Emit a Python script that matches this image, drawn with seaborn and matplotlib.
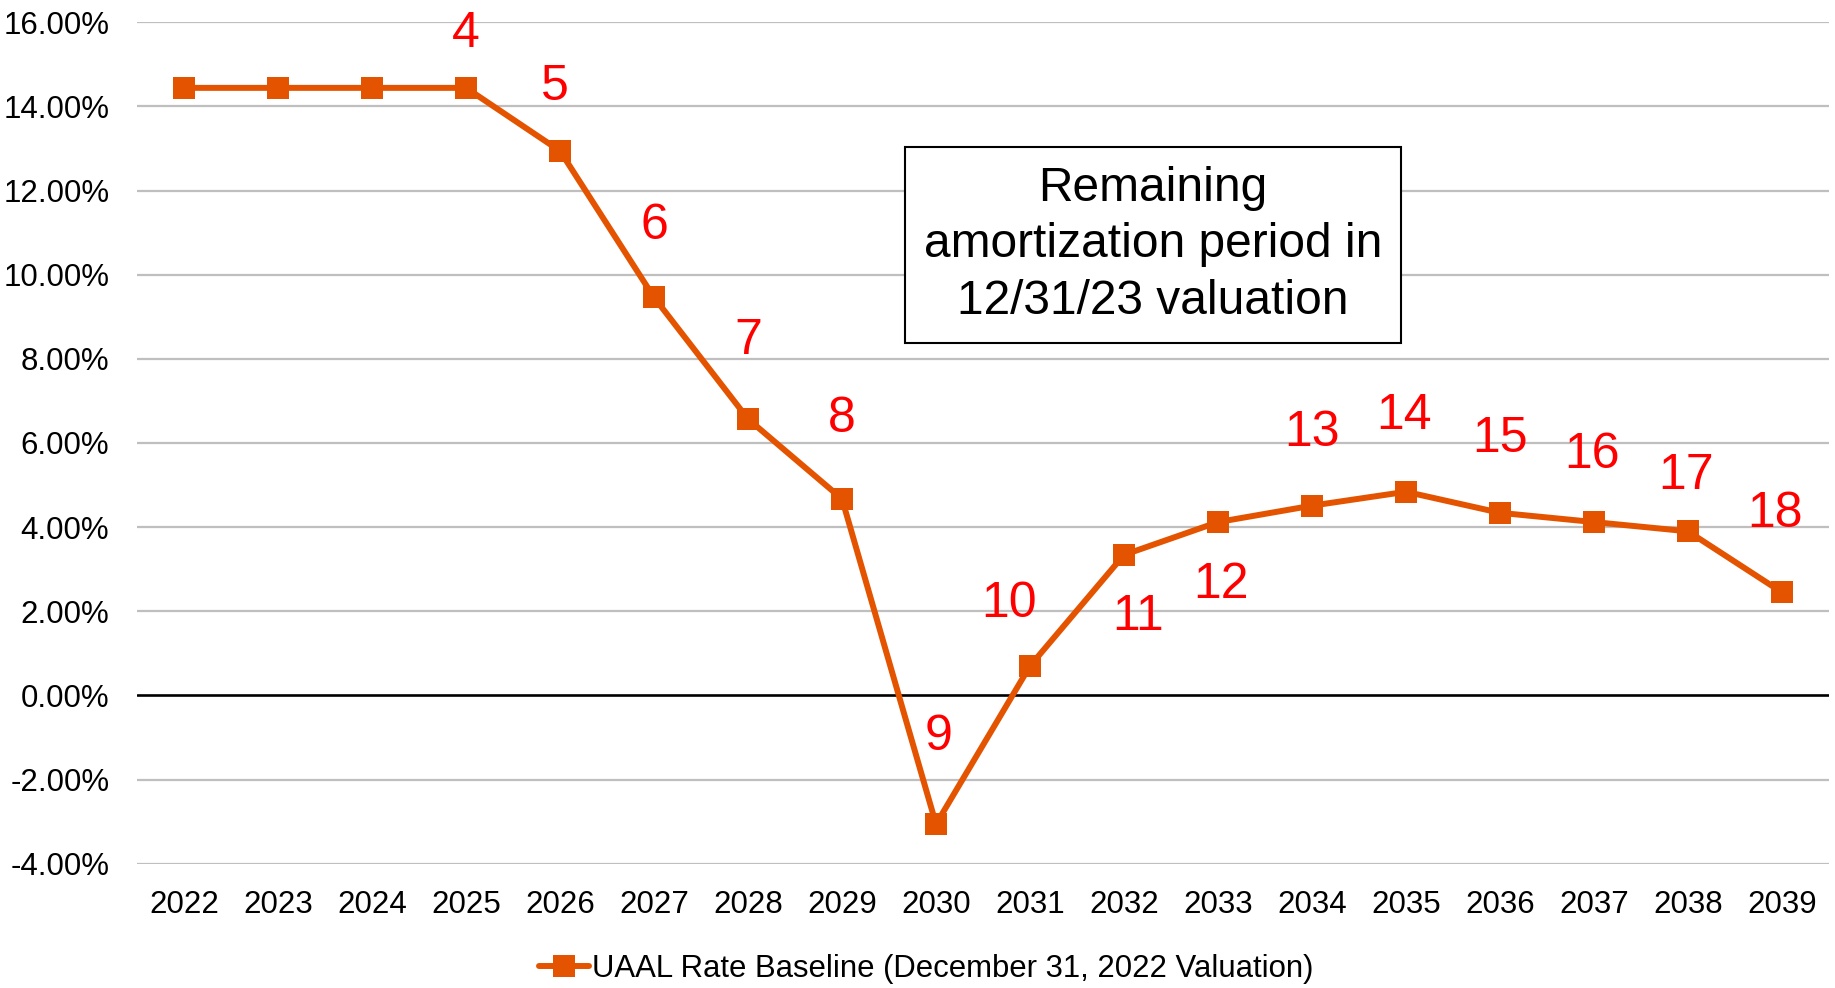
import matplotlib
matplotlib.use("Agg")
import matplotlib.pyplot as plt
import seaborn as sns
import pandas as pd
from matplotlib.ticker import FuncFormatter

years = [2022, 2023, 2024, 2025, 2026, 2027, 2028, 2029, 2030,
         2031, 2032, 2033, 2034, 2035, 2036, 2037, 2038, 2039]
uaal_rate = [14.44, 14.44, 14.44, 14.44, 12.94, 9.46, 6.57, 4.67, -3.06,
             0.70, 3.34, 4.12, 4.51, 4.84, 4.34, 4.12, 3.90, 2.45]
series_name = "UAAL Rate Baseline (December 31, 2022 Valuation)"

period_labels = ["4", "5", "6", "7", "8", "9", "10", "11", "12",
                 "13", "14", "15", "16", "17", "18"]
# label anchor positions (layout), in data coordinates
label_x = [2025.0, 2025.95, 2027.0, 2028.0, 2029.0, 2030.03, 2030.78, 2032.15,
           2033.03, 2034.0, 2034.98, 2036.0, 2036.98, 2037.98, 2038.93]
label_y = [15.72, 14.47, 11.15, 8.43, 6.58, -0.98, 2.17, 1.86,
           2.62, 6.24, 6.63, 6.10, 5.71, 5.21, 4.32]
box_text = "Remaining\namortization period in\n12/31/23 valuation"

y_ticks = [-4, -2, 0, 2, 4, 6, 8, 10, 12, 14, 16]

sns.set_theme(style="white")
plt.rcParams["font.family"] = ["Liberation Sans", "DejaVu Sans"]
plt.rcParams["text.color"] = "black"

fig = plt.figure(figsize=(18.35, 9.88), dpi=100)
ax = fig.add_axes([0.0747, 0.1258, 0.9967 - 0.0747, 0.9775 - 0.1258])

orange = "#E45400"
df = pd.DataFrame({"year": years, "rate": uaal_rate})

for t in y_ticks:
    if t == 0:
        continue
    ax.axhline(t, color="#BFBFBF", lw=1.6, zorder=0)
ax.axhline(0, color="black", lw=1.9, zorder=1)

sns.lineplot(data=df, x="year", y="rate", ax=ax, color=orange, lw=4.3,
             marker="s", markersize=16.5, markeredgewidth=0,
             markerfacecolor=orange, label=series_name, zorder=3)

for txt, lx, ly in zip(period_labels, label_x, label_y):
    ax.text(lx, ly, txt, color="#FF0000", fontsize=36, ha="center",
            va="center", zorder=4)

ax.text(2032.31, 10.71, box_text, fontsize=34.5, ha="center", va="center",
        linespacing=1.33, zorder=5, color="black",
        bbox=dict(boxstyle="square,pad=0.4", facecolor="white",
                  edgecolor="black", linewidth=1.5))

ax.set_xlim(2021.5, 2039.5)
ax.set_ylim(-4, 16)
ax.set_xticks(years)
ax.set_xticklabels([str(y) for y in years])
ax.set_yticks(y_ticks)
ax.yaxis.set_major_formatter(FuncFormatter(lambda v, p: f"{v:.2f}%"))
ax.tick_params(axis="y", labelsize=22.5, pad=20, length=0, colors="black")
ax.tick_params(axis="x", labelsize=22.5, pad=19, length=0, colors="black")
ax.set_xlabel("")
ax.set_ylabel("")
for s in ax.spines.values():
    s.set_visible(False)

leg = ax.legend(loc="center", bbox_to_anchor=(0.5046, 0.019),
                bbox_transform=fig.transFigure, frameon=False, fontsize=22.4,
                handlelength=1.6, handletextpad=0.1, borderpad=0)
for t in leg.get_texts():
    t.set_color("black")

fig.savefig("out.png", dpi=100)
